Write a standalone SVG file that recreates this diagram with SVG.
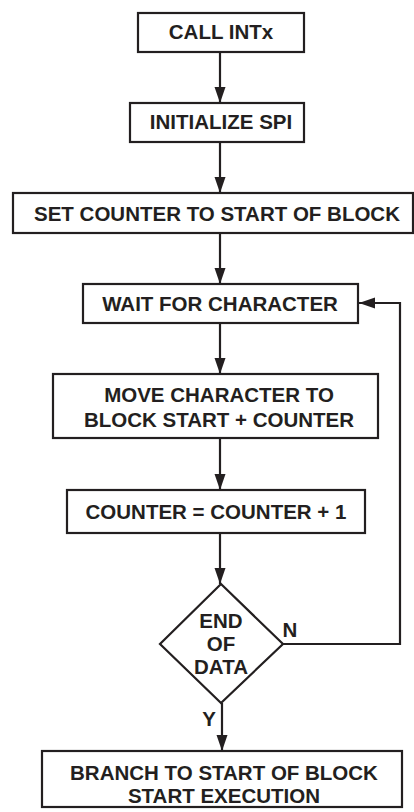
<svg xmlns="http://www.w3.org/2000/svg" width="414" height="812" viewBox="0 0 414 812">
<style>
.box{fill:#fff;stroke:#231f20;stroke-width:2.2}
.t{font-family:"Liberation Sans",Arial,sans-serif;font-weight:bold;font-size:20.5px;fill:#231f20;text-anchor:middle}
.c{fill:none;stroke:#231f20;stroke-width:2.2}
</style>
<defs>
<marker id="ah" viewBox="0 0 16 12" refX="16" refY="6" markerWidth="16" markerHeight="12" markerUnits="userSpaceOnUse" orient="auto">
<path d="M0,0.5 L16,6 L0,11.5 z" fill="#231f20"/>
</marker>
</defs>
<rect width="414" height="812" fill="#fff"/>
<g id="connectors">
<line class="c" x1="220" y1="52" x2="220" y2="103" marker-end="url(#ah)"/>
<line class="c" x1="220" y1="142" x2="220" y2="193" marker-end="url(#ah)"/>
<line class="c" x1="220" y1="233" x2="220" y2="284" marker-end="url(#ah)"/>
<line class="c" x1="220" y1="323" x2="220" y2="374" marker-end="url(#ah)"/>
<line class="c" x1="220" y1="438" x2="220" y2="490" marker-end="url(#ah)"/>
<line class="c" x1="220" y1="533" x2="220" y2="584" marker-end="url(#ah)"/>
<line class="c" x1="222" y1="703" x2="222" y2="751" marker-end="url(#ah)"/>
<polyline class="c" points="283,644 400,644 400,303 359,303" marker-end="url(#ah)"/>
<text class="t" x="290" y="637">N</text>
<text class="t" x="209" y="726">Y</text>
</g>
<g id="n1">
<rect class="box" x="138" y="13" width="166" height="39"/>
<text class="t" x="221" y="39">CALL INTx</text>
</g>
<g id="n2">
<rect class="box" x="130" y="103" width="174" height="39"/>
<text class="t" x="221" y="129">INITIALIZE SPI</text>
</g>
<g id="n3">
<rect class="box" x="13" y="193" width="400" height="40"/>
<text class="t" x="217" y="221">SET COUNTER TO START OF BLOCK</text>
</g>
<g id="n4">
<rect class="box" x="83" y="284" width="275" height="39"/>
<text class="t" x="220" y="311">WAIT FOR CHARACTER</text>
</g>
<g id="n5">
<rect class="box" x="53" y="374" width="325" height="64"/>
<text class="t" x="219" y="402">MOVE CHARACTER TO</text>
<text class="t" x="219" y="427">BLOCK START + COUNTER</text>
</g>
<g id="n6">
<rect class="box" x="67" y="490" width="298" height="43"/>
<text class="t" x="216" y="519">COUNTER = COUNTER + 1</text>
</g>
<g id="n7">
<polygon class="box" points="221,584 283,644 221,703 160,644"/>
<text class="t" x="221" y="628">END</text>
<text class="t" x="221" y="651">OF</text>
<text class="t" x="221" y="674">DATA</text>
</g>
<g id="n8">
<rect class="box" x="42" y="751" width="360" height="56"/>
<text class="t" x="224" y="780">BRANCH TO START OF BLOCK</text>
<text class="t" x="224" y="803">START EXECUTION</text>
</g>
</svg>
